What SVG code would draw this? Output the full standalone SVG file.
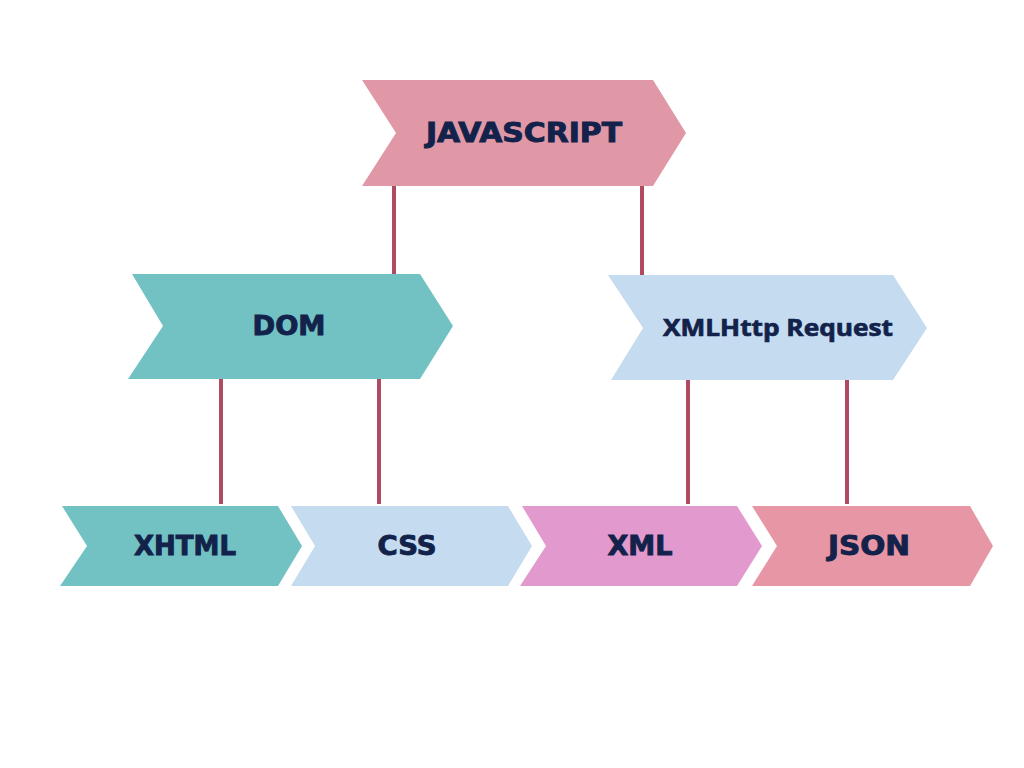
<svg xmlns="http://www.w3.org/2000/svg" width="1024" height="768" viewBox="0 0 1024 768">
<style>
.lbl{font-family:"DejaVu Sans","Liberation Sans",sans-serif;font-weight:700;fill:#12224a;stroke:#12224a;stroke-width:0.9;text-anchor:middle}
.os{font-family:"Open Sans","DejaVu Sans",sans-serif;font-weight:700;fill:#12224a;stroke:#12224a;stroke-width:0.7;text-anchor:middle}
.conn line{stroke:#b04a60;stroke-width:4}
</style>
<rect width="1024" height="768" fill="#ffffff"/>
<g class="conn" id="connectors">
<line x1="394" y1="184" x2="394" y2="276"/>
<line x1="642" y1="184" x2="642" y2="276"/>
<line x1="221" y1="378" x2="221" y2="504"/>
<line x1="379" y1="378" x2="379" y2="504"/>
<line x1="688" y1="378" x2="688" y2="504"/>
<line x1="847" y1="378" x2="847" y2="504"/>
</g>
<g id="javascript">
<polygon points="362,80 653,80 686,133 653,186 362,186 396,133" fill="#e198a6"/>
<text class="lbl" x="524" y="142" font-size="26" textLength="196" lengthAdjust="spacingAndGlyphs">JAVASCRIPT</text>
</g>
<g id="dom">
<polygon points="132,274 420,274 453,326 420,379 128,379 163,326" fill="#72c2c4"/>
<text class="lbl" x="289" y="335" font-size="26" textLength="73" lengthAdjust="spacingAndGlyphs">DOM</text>
</g>
<g id="xmlhttp">
<polygon points="608,275 893,275 927,328 893,380 611,380 643,328" fill="#c4dbf0"/>
<text class="os" x="778" y="336" font-size="23" textLength="230" lengthAdjust="spacingAndGlyphs">XMLHttp Request</text>
</g>
<g id="xhtml">
<polygon points="62,506 278,506 302,546 278,586 60,586 87,546" fill="#72c2c4"/>
<text class="lbl" x="185" y="555" font-size="26" textLength="102" lengthAdjust="spacingAndGlyphs">XHTML</text>
</g>
<g id="css">
<polygon points="291,506 508,506 532,546 508,586 291,586 315,546" fill="#c4dbf0"/>
<text class="lbl" x="407" y="555" font-size="26" textLength="59" lengthAdjust="spacingAndGlyphs">CSS</text>
</g>
<g id="xml">
<polygon points="522,506 737,506 762,546 737,586 520,586 546,546" fill="#e299cd"/>
<text class="lbl" x="640" y="555" font-size="26" textLength="65" lengthAdjust="spacingAndGlyphs">XML</text>
</g>
<g id="json">
<polygon points="752,506 970,506 993,546 970,586 752,586 777,546" fill="#e696a4"/>
<text class="lbl" x="869" y="555" font-size="26" textLength="82" lengthAdjust="spacingAndGlyphs">JSON</text>
</g>
</svg>
